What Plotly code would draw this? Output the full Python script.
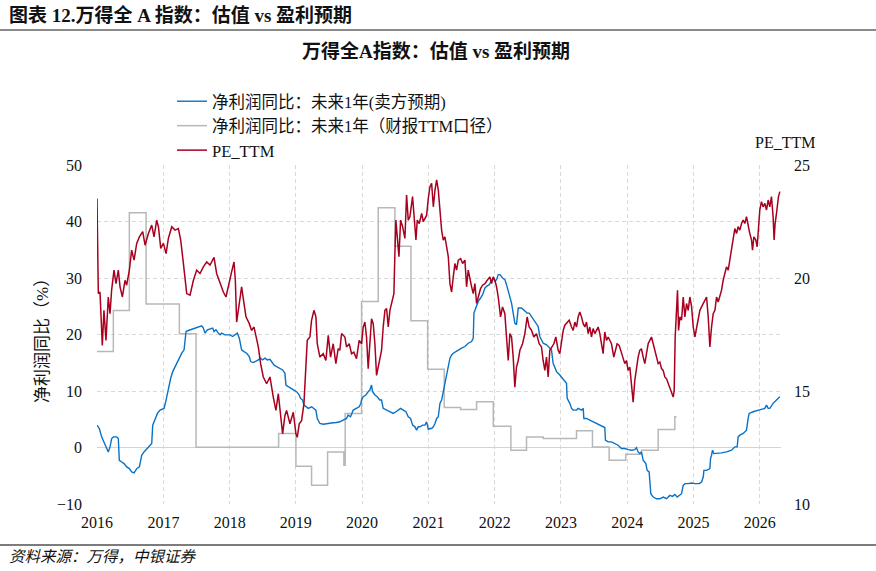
import pandas as pd
import plotly.graph_objects as go

# ---------------- data (decimal year, value) ----------------
pe_t = [2016.00, 2016.005, 2016.02, 2016.045, 2016.08, 2016.105, 2016.135, 2016.17, 2016.196, 2016.22,
        2016.256, 2016.286, 2016.321, 2016.347, 2016.382, 2016.422, 2016.447, 2016.487, 2016.522, 2016.558,
        2016.598, 2016.638, 2016.688, 2016.724, 2016.774, 2016.824, 2016.859, 2016.899, 2016.925, 2016.96,
        2017.0, 2017.04, 2017.075, 2017.126, 2017.176, 2017.226, 2017.261, 2017.302, 2017.352, 2017.402,
        2017.453, 2017.503, 2017.553, 2017.603, 2017.654, 2017.704, 2017.764, 2017.804, 2017.855, 2017.905,
        2017.945, 2017.995, 2018.03, 2018.066, 2018.086, 2018.106, 2018.146, 2018.181, 2018.217, 2018.247,
        2018.297, 2018.332, 2018.368, 2018.408, 2018.433, 2018.468, 2018.508, 2018.559, 2018.609, 2018.659,
        2018.699, 2018.735, 2018.77, 2018.80, 2018.835, 2018.86, 2018.911, 2018.961, 2019.001, 2019.021,
        2019.051, 2019.086, 2019.122, 2019.152, 2019.172, 2019.212, 2019.237, 2019.273, 2019.303, 2019.323,
        2019.363, 2019.413, 2019.453, 2019.489, 2019.524, 2019.564, 2019.604, 2019.639, 2019.664,
        2019.69, 2019.74, 2019.765, 2019.806, 2019.841, 2019.876, 2019.916, 2019.956, 2019.992, 2020.017,
        2020.042, 2020.067, 2020.092, 2020.117, 2020.142, 2020.168, 2020.193, 2020.218, 2020.258, 2020.293,
        2020.318, 2020.344, 2020.369, 2020.394, 2020.419, 2020.444, 2020.479, 2020.494, 2020.509, 2020.53,
        2020.555, 2020.58, 2020.61, 2020.645, 2020.67, 2020.695, 2020.72, 2020.76, 2020.781, 2020.811,
        2020.831, 2020.861, 2020.897, 2020.922, 2020.947, 2020.972, 2020.997, 2021.022, 2021.047, 2021.073,
        2021.098, 2021.123, 2021.148, 2021.173, 2021.198, 2021.223, 2021.248, 2021.274, 2021.299, 2021.324,
        2021.349, 2021.374, 2021.399, 2021.424, 2021.45, 2021.485, 2021.515, 2021.55, 2021.575, 2021.6,
        2021.626, 2021.651, 2021.676, 2021.701, 2021.726, 2021.751, 2021.786, 2021.817, 2021.852, 2021.887,
        2021.927, 2021.952, 2021.978, 2022.003, 2022.028, 2022.053, 2022.088, 2022.118, 2022.153, 2022.178,
        2022.204, 2022.229, 2022.254, 2022.279, 2022.304, 2022.329, 2022.355, 2022.38, 2022.42, 2022.455,
        2022.49, 2022.52, 2022.556, 2022.591, 2022.631, 2022.671, 2022.706, 2022.731, 2022.757, 2022.782,
        2022.807, 2022.832, 2022.857, 2022.893, 2022.923, 2022.958, 2022.983,
        2023.009, 2023.034, 2023.059, 2023.084, 2023.124, 2023.16, 2023.185, 2023.21, 2023.235, 2023.26,
        2023.285, 2023.31, 2023.336, 2023.361, 2023.386, 2023.411, 2023.436, 2023.461, 2023.486, 2023.512,
        2023.537, 2023.562, 2023.587, 2023.612, 2023.637, 2023.662, 2023.688, 2023.713, 2023.738, 2023.763,
        2023.798, 2023.828, 2023.848, 2023.879, 2023.914, 2023.939, 2023.964, 2023.989, 2024.014, 2024.04,
        2024.065, 2024.09, 2024.115, 2024.14, 2024.165, 2024.19, 2024.215, 2024.241, 2024.266, 2024.291,
        2024.316, 2024.341, 2024.366, 2024.392, 2024.417, 2024.442, 2024.467, 2024.492, 2024.517, 2024.542,
        2024.567, 2024.593, 2024.618, 2024.643, 2024.668, 2024.693, 2024.708, 2024.723, 2024.743, 2024.758,
        2024.774, 2024.794, 2024.819, 2024.844, 2024.869, 2024.894, 2024.919, 2024.944, 2024.97, 2024.995,
        2025.02, 2025.045, 2025.07, 2025.095, 2025.12, 2025.146, 2025.171, 2025.196, 2025.221, 2025.246,
        2025.271, 2025.296, 2025.322, 2025.347, 2025.372, 2025.397, 2025.422, 2025.447, 2025.472, 2025.497,
        2025.523, 2025.548, 2025.573, 2025.598, 2025.623, 2025.648, 2025.673, 2025.699, 2025.724, 2025.749,
        2025.774, 2025.799, 2025.824, 2025.849, 2025.875, 2025.89, 2025.91, 2025.94, 2025.96, 2025.98,
        2026.0, 2026.025, 2026.05, 2026.076, 2026.101, 2026.126, 2026.151, 2026.176, 2026.201, 2026.216,
        2026.231, 2026.252, 2026.267, 2026.282, 2026.302]
pe_v = [23.52, 21.82, 19.31, 19.38, 17.02, 18.57, 17.24, 19.16, 18.42, 19.46,
        20.35, 19.75, 20.35, 19.61, 19.16, 19.90, 19.68, 20.35, 21.23, 20.79,
        21.53, 21.82, 22.05, 21.45, 21.97, 22.34, 21.82, 22.56, 22.27, 21.31,
        21.53, 21.08, 21.75, 22.27, 22.12, 22.19, 21.68, 20.64, 19.31, 19.24,
        19.90, 20.35, 20.20, 20.49, 20.71, 20.57, 20.91, 20.20, 19.75, 19.38,
        19.16, 19.90, 20.27, 20.71, 19.90, 18.05, 18.87, 19.61, 18.87, 18.28,
        17.98, 17.68, 17.83, 17.24, 16.95, 16.21, 15.62, 15.32, 15.62, 14.73,
        14.14, 14.88, 13.99, 13.10, 13.92, 14.14, 13.55, 14.06, 13.10, 12.95,
        13.55, 13.69, 14.43, 16.06, 17.24, 17.39, 18.13, 18.57, 18.28, 17.09,
        16.50, 16.65, 16.35, 17.46, 16.50, 17.09, 16.21, 16.87, 16.80,
        17.54, 17.39, 16.95, 17.09, 16.65, 16.72, 16.43, 17.24, 17.09, 17.83,
        18.05, 17.39, 15.99, 17.09, 18.20, 17.98, 17.09, 15.69, 16.35, 16.80,
        17.83, 18.57, 18.65, 17.83, 18.57, 18.87, 19.31, 21.08, 22.56, 21.82,
        20.94, 22.56, 22.27, 21.75, 23.67, 22.56, 22.71, 23.60, 22.64, 21.68,
        22.56, 22.41, 22.86, 22.49, 22.64, 22.78, 23.52, 24.04, 24.19, 23.15,
        23.89, 24.34, 23.89, 22.86, 22.12, 21.68, 21.82, 21.38, 20.94, 19.75,
        19.38, 20.05, 20.64, 20.35, 20.79, 20.86, 20.64, 20.79, 19.61, 20.35,
        19.90, 19.61, 19.31, 19.75, 18.87, 19.16, 19.53, 19.68, 19.75, 19.90,
        20.05, 19.75, 20.05, 19.90, 19.61, 19.16, 18.28, 18.72, 18.42, 17.39,
        16.35, 17.54, 17.39, 16.50, 15.17, 16.06, 16.35, 16.80, 17.09, 17.54,
        18.28, 17.83, 17.68, 17.39, 17.54, 17.09, 16.95, 16.35, 15.91, 16.50,
        15.62, 16.80, 16.95, 17.09, 17.39, 16.80, 16.65,
        17.24, 17.68, 17.91, 17.98, 18.13, 17.83, 17.68, 18.05, 17.83, 18.28,
        18.50, 18.28, 17.98, 17.83, 18.05, 17.54, 17.83, 17.39, 17.76, 17.54,
        17.68, 17.83, 17.54, 17.09, 16.65, 17.61, 17.24, 17.39, 17.24, 17.09,
        16.50, 16.95, 17.09, 17.02, 16.65, 16.50, 16.21, 16.35, 15.91, 16.06,
        15.32, 14.51, 15.47, 16.06, 16.50, 16.80, 16.87, 16.50, 16.21, 16.65,
        17.09, 17.24, 17.39, 17.09, 16.80, 16.50, 16.21, 16.28, 15.99, 15.91,
        15.62, 15.54, 15.32, 15.17, 14.88, 14.73, 15.02, 17.39, 18.57, 19.46,
        17.68, 18.28, 18.13, 19.16, 18.28, 18.87, 18.57, 19.16, 18.72, 17.83,
        17.39, 17.83, 18.13, 18.57, 18.72, 18.87, 19.01, 19.16, 18.28, 16.95,
        17.83, 18.42, 18.57, 19.16, 18.94, 19.16, 19.46, 19.90, 20.20, 20.49,
        20.35, 20.79, 21.23, 21.82, 22.19, 21.97, 22.27, 22.12, 22.41, 22.56,
        22.41, 22.71, 22.27, 21.97, 21.68, 21.23, 21.82, 21.68, 21.38, 22.05,
        23.01, 23.38, 23.15, 23.30, 23.01, 23.45, 23.15, 23.60, 22.71, 21.68,
        22.41, 22.86, 23.30, 23.60, 23.82]

fwd_t = [2016.0, 2016.035, 2016.07, 2016.105, 2016.135, 2016.17, 2016.196, 2016.221, 2016.246, 2016.296,
         2016.321, 2016.336, 2016.372, 2016.407, 2016.447, 2016.487, 2016.522, 2016.558, 2016.598, 2016.638,
         2016.658, 2016.673, 2016.708, 2016.749, 2016.789, 2016.824, 2016.839, 2016.874, 2016.91, 2016.95,
         2017.01, 2017.04, 2017.06, 2017.09, 2017.11, 2017.141, 2017.176, 2017.211, 2017.241, 2017.277,
         2017.312, 2017.327, 2017.342, 2017.377, 2017.402, 2017.443, 2017.478, 2017.513, 2017.553, 2017.578,
         2017.603, 2017.628, 2017.664, 2017.704, 2017.744, 2017.764, 2017.794, 2017.83, 2017.855, 2017.88,
         2017.93, 2017.965, 2018.005, 2018.045, 2018.081, 2018.116, 2018.146, 2018.181, 2018.217, 2018.257,
         2018.297, 2018.317, 2018.357, 2018.398, 2018.433, 2018.468, 2018.498, 2018.534, 2018.569, 2018.609,
         2018.634, 2018.669, 2018.709, 2018.76, 2018.8, 2018.835, 2018.85, 2018.885, 2018.936, 2018.971,
         2019.011, 2019.051, 2019.071, 2019.101, 2019.122, 2019.152, 2019.187, 2019.237, 2019.303, 2019.323,
         2019.363, 2019.413, 2019.464, 2019.514, 2019.564, 2019.614, 2019.664,
         2019.715, 2019.765, 2019.79, 2019.826, 2019.866, 2019.916, 2019.956, 2019.982, 2019.992, 2020.017,
         2020.057, 2020.092, 2020.117, 2020.142, 2020.158, 2020.193, 2020.228, 2020.268, 2020.293, 2020.318,
         2020.369, 2020.419, 2020.469, 2020.51, 2020.545, 2020.58, 2020.62, 2020.66, 2020.695, 2020.73,
         2020.761, 2020.796, 2020.821, 2020.846, 2020.871, 2020.912, 2020.947, 2020.972, 2020.997, 2021.022,
         2021.047, 2021.073, 2021.098, 2021.123, 2021.148, 2021.173, 2021.198, 2021.223, 2021.248, 2021.274,
         2021.299, 2021.324, 2021.349, 2021.374, 2021.414, 2021.45, 2021.5, 2021.55, 2021.6, 2021.651,
         2021.676, 2021.686, 2021.726, 2021.751, 2021.786, 2021.817, 2021.852, 2021.877, 2021.917, 2021.952,
         2021.978, 2022.003, 2022.028, 2022.053, 2022.078, 2022.118, 2022.153, 2022.178, 2022.204, 2022.229,
         2022.254, 2022.279, 2022.304, 2022.329, 2022.355, 2022.405, 2022.455, 2022.49, 2022.52, 2022.556,
         2022.591, 2022.631, 2022.656, 2022.681, 2022.732, 2022.782, 2022.832, 2022.857, 2022.882, 2022.933,
         2022.983,
         2023.059, 2023.084, 2023.094, 2023.134, 2023.16, 2023.185, 2023.235, 2023.26, 2023.31, 2023.336,
         2023.346, 2023.386, 2023.436, 2023.486, 2023.537, 2023.587, 2023.637, 2023.662, 2023.672, 2023.713,
         2023.763, 2023.813, 2023.863, 2023.914, 2023.964, 2024.014, 2024.065, 2024.115, 2024.14, 2024.165,
         2024.19, 2024.215, 2024.241, 2024.281, 2024.301, 2024.331, 2024.341, 2024.356, 2024.392, 2024.442,
         2024.492, 2024.542, 2024.593, 2024.643, 2024.683, 2024.718, 2024.753, 2024.794, 2024.819, 2024.844,
         2024.869, 2024.919, 2024.97, 2025.02, 2025.085, 2025.12, 2025.146, 2025.156, 2025.196, 2025.246,
         2025.256, 2025.271, 2025.286, 2025.306, 2025.347, 2025.422, 2025.497, 2025.573, 2025.623, 2025.658,
         2025.673, 2025.699, 2025.749, 2025.799, 2025.824, 2025.839, 2025.9, 2026.0, 2026.076, 2026.101,
         2026.126, 2026.151, 2026.201, 2026.252, 2026.302]
fwd_v = [3.96, 3.36, 1.88, 1.00, 0.40, -0.78, 0.11, 1.59, 1.88, 1.88,
         1.59, -2.26, -2.56, -2.85, -3.44, -3.74, -4.33, -4.51, -3.74, -3.44,
         -2.26, -1.37, -0.78, -0.19, 0.40, 0.70, 3.96, 4.85, 6.03, 6.62,
         6.92, 8.40, 9.58, 10.77, 12.25, 13.43, 14.32, 14.91, 15.80, 16.69,
         17.28, 19.05, 20.53, 20.71, 20.83, 20.95, 21.13, 21.30, 21.54, 21.54,
         21.13, 20.24, 20.83, 20.95, 21.13, 20.53, 20.83, 20.24, 19.94, 20.24,
         19.94, 19.94, 19.94, 19.65, 19.94, 20.24, 19.35, 17.28, 16.98, 16.69,
         16.09, 15.21, 15.03, 15.21, 15.50, 15.80, 15.50, 15.80, 15.50, 15.62,
         15.21, 14.61, 14.32, 14.02, 13.73, 13.13, 11.06, 10.77, 10.47, 10.17,
         9.88, 9.29, 8.69, 8.40, 7.51, 7.21, 6.92, 7.21, 6.62, 5.14,
         4.25, 4.13, 4.25, 4.25, 4.37, 4.43, 4.55,
         4.85, 5.14, 5.73, 5.44, 6.62, 6.92, 7.21, 7.81, 8.40, 8.99,
         9.29, 9.88, 10.17, 11.06, 9.88, 9.29, 8.99, 8.40, 8.40, 6.92,
         6.62, 6.33, 6.03, 6.33, 6.62, 6.92, 6.62, 6.33, 5.44, 5.14,
         3.96, 3.66, 3.07, 3.66, 3.66, 3.96, 3.96, 4.55, 3.19, 3.36,
         3.36, 3.66, 4.25, 5.14, 5.44, 7.81, 8.40, 9.88, 11.36, 12.54,
         14.32, 15.80, 16.39, 16.69, 16.98, 17.28, 17.57, 17.87, 18.46, 18.76,
         19.35, 23.79, 24.98, 25.86, 26.46, 27.05, 28.23, 28.53, 28.82, 29.42,
         30.01, 29.42, 29.71, 30.60, 30.60, 30.01, 29.71, 28.82, 27.64, 26.46,
         25.57, 23.79, 22.02, 21.72, 24.68, 24.68, 24.09, 23.79, 23.79, 23.20,
         22.61, 22.02, 21.42, 19.65, 18.46, 18.17, 17.57, 17.28, 14.91, 13.43,
         12.84,
         11.65, 11.36, 8.69, 7.81, 6.92, 6.62, 6.62, 6.92, 6.62, 6.92,
         5.14, 5.14, 4.85, 4.55, 4.25, 3.96, 3.66, 3.54, 1.29, 1.00,
         1.00, 0.70, 0.40, -0.19, -0.19, -0.37, -0.48, -0.37, -0.01, -0.78,
         -1.08, -0.78, -2.26, -2.85, -4.04, -4.33, -7.00, -8.18, -8.77, -9.07,
         -9.07, -8.77, -9.07, -8.48, -8.65, -8.30, -8.77, -8.48, -8.18, -6.70,
         -6.40, -6.40, -6.29, -6.40, -6.40, -6.11, -5.22, -4.04, -4.04, -3.74,
         -1.96, -1.37, -0.48, -1.08, -1.08, -0.96, -0.78, -0.48, 0.11, 0.11,
         1.88, 2.18, 2.48, 3.07, 5.14, 6.03, 6.33, 6.62, 6.92, 7.51,
         6.92, 6.92, 7.81, 8.40, 8.99]

ttm_t = [2016.0, 2016.246, 2016.487, 2016.739, 2017.241, 2017.493, 2018.74, 2019.001, 2019.237, 2019.479,
         2019.725, 2019.745, 2019.992, 2020.243, 2020.494, 2020.736, 2020.987, 2021.238, 2021.485, 2021.726,
         2021.978, 2022.244, 2022.48, 2022.732, 2023.235, 2023.476, 2023.728, 2023.979, 2024.215, 2024.467,
         2024.718, 2024.743]
ttm_v = [16.98, 24.26, 41.55, 25.39, 20.12, 0.05, 2.48, -3.33, -6.70, -0.78,
         -3.15, 6.03, 25.86, 42.44, 35.63, 22.43, 13.84, 7.10, 6.74, 8.10,
         3.78, -0.48, 1.88, 1.59, 2.95, 0.11, -2.26, -1.19, -0.48, 3.19,
         5.44, 5.44]

year_ticks = list(range(2016, 2027))
left_ticks = [-10, 0, 10, 20, 30, 40, 50]
right_ticks = [10, 15, 20, 25]

names = ["净利润同比：未来1年(卖方预期)", "净利润同比：未来1年（财报TTM口径）", "PE_TTM"]


def to_date(y):
    yr = int(y)
    start = pd.Timestamp(yr, 1, 1)
    end = pd.Timestamp(yr + 1, 1, 1)
    return start + (end - start) * (y - yr)


def dates(lst):
    return [to_date(v) for v in lst]


BLUE = "#0a72c6"
GRAY = "#b8b8b8"
RED = "#a8001e"
FONT = "Liberation Serif, Noto Sans CJK SC, serif"
GRID = "#d9d9d9"
DASH = "4px,3px"

fig = go.Figure()
fig.add_trace(go.Scatter(x=dates(ttm_t), y=ttm_v, mode="lines", line=dict(color=GRAY, width=1.5, shape="hv"),
                         name=names[1], legendrank=2, legendgroup="g2"))
fig.add_trace(go.Scatter(x=dates(fwd_t), y=fwd_v, mode="lines", line=dict(color=BLUE, width=1.4),
                         name=names[0], legendrank=1, legendgroup="g1"))
fig.add_trace(go.Scatter(x=dates(pe_t), y=pe_v, mode="lines", line=dict(color=RED, width=1.5),
                         name=names[2], legendrank=3, legendgroup="g3", yaxis="y2"))

W, H = 876, 571
L, R, T, B = 97, 95, 165, 67
pw, ph = W - L - R, H - T - B


def px(x):
    return (x - L) / pw


def py(y):
    return (H - B - y) / ph


fig.update_layout(
    width=W, height=H,
    margin=dict(l=L, r=R, t=T, b=B),
    paper_bgcolor="white", plot_bgcolor="white",
    font=dict(family=FONT, size=16, color="#111"),
    showlegend=True,
    legend=dict(x=px(172), y=py(84), xanchor="left", yanchor="top", bgcolor="rgba(0,0,0,0)",
                font=dict(size=16.5, family=FONT), tracegroupgap=0, traceorder="grouped"),
    xaxis=dict(type="date", range=[to_date(2016.0), to_date(2026.32)],
               tickvals=[pd.Timestamp(y, 1, 1) for y in year_ticks], ticktext=[str(y) for y in year_ticks],
               showgrid=True, gridcolor=GRID, griddash=DASH, gridwidth=1,
               zeroline=False, showline=False, ticks="", ticklabelstandoff=7,
               tickfont=dict(size=16)),
    yaxis=dict(range=[-10, 50], tickvals=left_ticks, showgrid=True, gridcolor=GRID,
               griddash=DASH, gridwidth=1, zeroline=True, zerolinecolor="#d3d3d3", zerolinewidth=1,
               showline=False, ticks="", ticklabelstandoff=14, tickfont=dict(size=16)),
    yaxis2=dict(range=[10, 25], tickvals=right_ticks, overlaying="y", side="right", showgrid=False,
                zeroline=False, showline=False, ticks="", ticklabelstandoff=12, tickfont=dict(size=16)),
)

ann = [
    dict(text="<b>图表 12.万得全 A 指数：估值 vs 盈利预期</b>", x=px(7), y=py(15), xanchor="left",
         yanchor="middle", font=dict(size=19, color="#111")),
    dict(text="<b>万得全A指数：估值 vs 盈利预期</b>", x=px(436), y=py(51), xanchor="center",
         yanchor="middle", font=dict(size=19, color="#111")),
    dict(text="净利润同比（%）", x=px(42), y=py(337), xanchor="center", yanchor="middle",
         textangle=-90, font=dict(size=17, color="#111")),
    dict(text="PE_TTM", x=px(785), y=py(142), xanchor="center", yanchor="middle",
         font=dict(size=16, color="#111")),
    dict(text="<i>资料来源：万得，中银证券</i>", x=px(7), y=py(556), xanchor="left", yanchor="middle",
         font=dict(size=15.5, color="#111")),
]
for a in ann:
    a.update(xref="paper", yref="paper", showarrow=False)
fig.update_layout(annotations=ann)

fig.update_layout(shapes=[
    dict(type="line", xref="paper", yref="paper", x0=px(0), x1=px(W), y0=py(30), y1=py(30),
         line=dict(color="#8a8a8a", width=2)),
    dict(type="line", xref="paper", yref="paper", x0=px(0), x1=px(W), y0=py(545), y1=py(545),
         line=dict(color="#505050", width=1.5)),
])

fig.write_html("out.html")
